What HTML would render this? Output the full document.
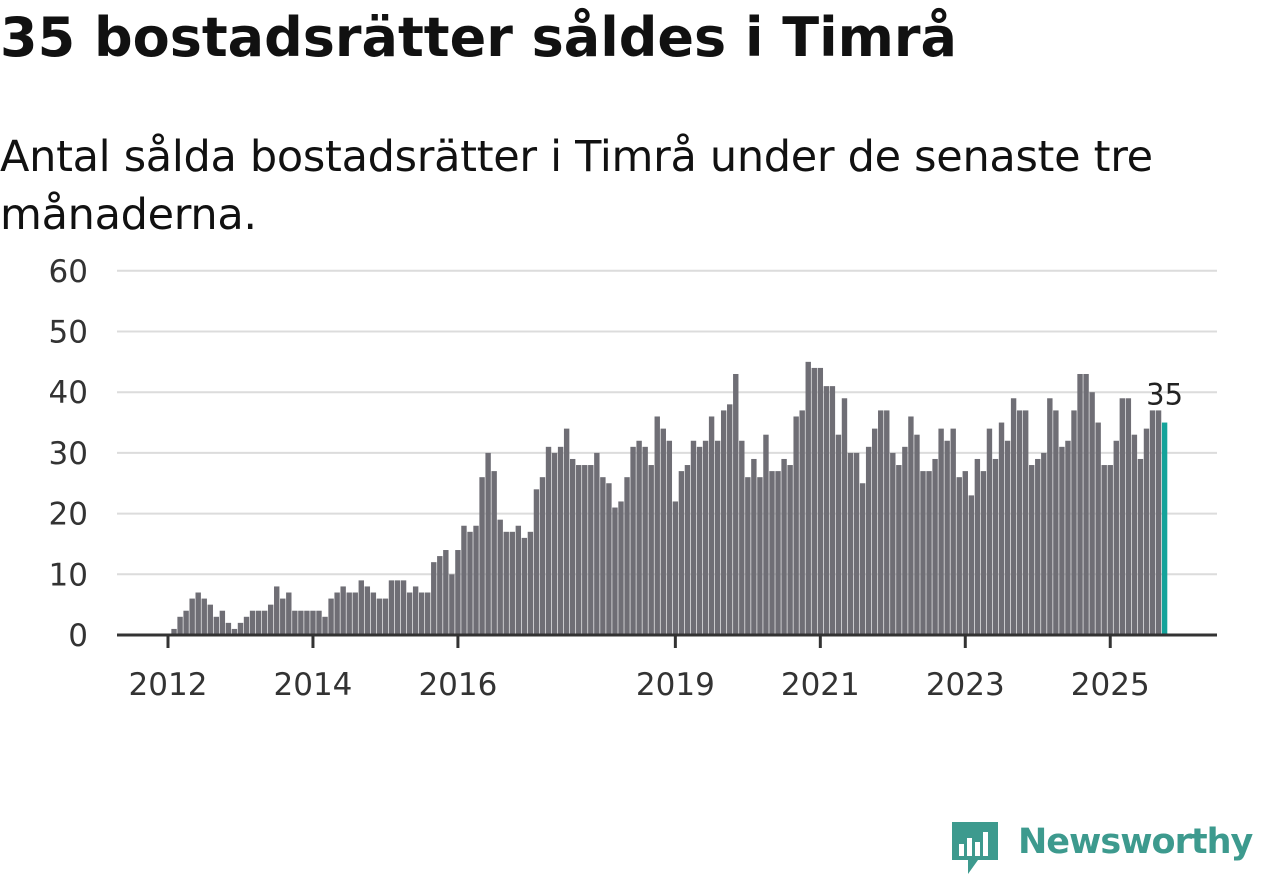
<!DOCTYPE html>
<html><head><meta charset="utf-8"><style>
body{margin:0;width:1262px;height:879px;background:#fff;font-family:"Liberation Sans","DejaVu Sans",sans-serif;color:#111;overflow:hidden;position:relative}
h1{position:absolute;left:0;top:6px;margin:0;font-size:54px;font-weight:bold;font-family:"DejaVu Sans","Liberation Sans",sans-serif;letter-spacing:0px;color:#111}
.sub{position:absolute;left:0;top:128px;margin:0;font-size:43px;line-height:58px;width:1200px;font-family:"DejaVu Sans","Liberation Sans",sans-serif;font-weight:normal;letter-spacing:-0.3px}
svg{position:absolute;left:0;top:0}
</style></head><body>
<h1>35 bostadsrätter såldes i Timrå</h1>
<p class="sub">Antal sålda bostadsrätter i Timrå under de senaste tre månaderna.</p>
<svg id="chart" width="1262" height="879"></svg>
<div style="position:absolute;left:950px;top:820px;width:312px;height:60px">
<svg width="52" height="60" style="position:absolute;left:0;top:0"><path d="M2 2h46v38h-20l-10 14v-14h-16z" fill="#3d9a8e"/><rect x="9" y="24" width="5" height="12" fill="#fff"/><rect x="17" y="18" width="5" height="18" fill="#fff"/><rect x="25" y="22" width="5" height="14" fill="#fff"/><rect x="33" y="12" width="5" height="24" fill="#fff"/></svg>
<span style="position:absolute;left:68px;top:2px;font-size:35px;color:#3d9a8e;font-weight:bold;font-family:'DejaVu Sans',sans-serif;letter-spacing:-1px">Newsworthy</span></div>
<script>
const values=[1,3,4,6,7,6,5,3,4,2,1,2,3,4,4,4,5,8,6,7,4,4,4,4,4,3,6,7,8,7,7,9,8,7,6,6,9,9,9,7,8,7,7,12,13,14,10,14,18,
17,18,26,30,27,19,17,17,18,16,17,24,26,31,30,31,34,29,28,28,28,30,26,25,21,22,26,31,32,31,28,36,34,32,22,27,28,32,31,32,36,32,37,38,43,32,26,29,26,33,27,27,29,28,36,37,45,44,44,
41,41,33,39,30,30,25,31,34,37,37,30,28,31,36,33,27,27,29,34,32,34,26,27,23,29,27,34,29,35,32,39,37,37,28,29,30,39,37,31,32,37,43,43,40,35,28,28,32,39,39,33,29,34,37,37,35];
const startMonth=1; // Feb 2012 (months since Jan 2012)
const yTicks=[0,10,20,30,40,50,60];
const xTickYears=[2012,2014,2016,2019,2021,2023,2025];
const svg=document.getElementById('chart');
const NS='http://www.w3.org/2000/svg';
const y=v=>635-v*6.07;
const x=m=>168+m*6.04;
function mk(t,a){const e=document.createElementNS(NS,t);for(const k in a)e.setAttribute(k,a[k]);svg.appendChild(e);return e;}
yTicks.forEach(v=>{
 if(v>0){const g=mk('line',{x1:117,x2:1217,y1:y(v),y2:y(v),stroke:'#dcdcdc','stroke-width':2});
 
 }
 const t=mk('text',{x:88,y:y(v)+11,'text-anchor':'end','font-size':31,fill:'#333','font-family':'DejaVu Sans, sans-serif'});
 t.textContent=v;
 
 
});
values.forEach((v,i)=>{
 const last=i===values.length-1;
 const r=mk('rect',{x:x(startMonth+i)-2.7,y:y(v),width:5.4,height:v*6.07,fill:last?'#14a39a':'#6f6e75'});
 
 
 if(last){const t=mk('text',{x:x(startMonth+i),y:y(v)-18,'text-anchor':'middle','font-size':29,fill:'#222','font-family':'DejaVu Sans, sans-serif'});t.textContent=v;
 
 }
});
const ax=mk('line',{x1:117,x2:1217,y1:635,y2:635,stroke:'#333','stroke-width':3});


xTickYears.forEach(yr=>{
 const px=x((yr-2012)*12);
 const l=mk('line',{x1:px,x2:px,y1:635,y2:648,stroke:'#333','stroke-width':3});
 
 
 const t=mk('text',{x:px,y:695,'text-anchor':'middle','font-size':31,fill:'#333','font-family':'DejaVu Sans, sans-serif'});t.textContent=yr;
 
 
});
</script>
</body></html>
